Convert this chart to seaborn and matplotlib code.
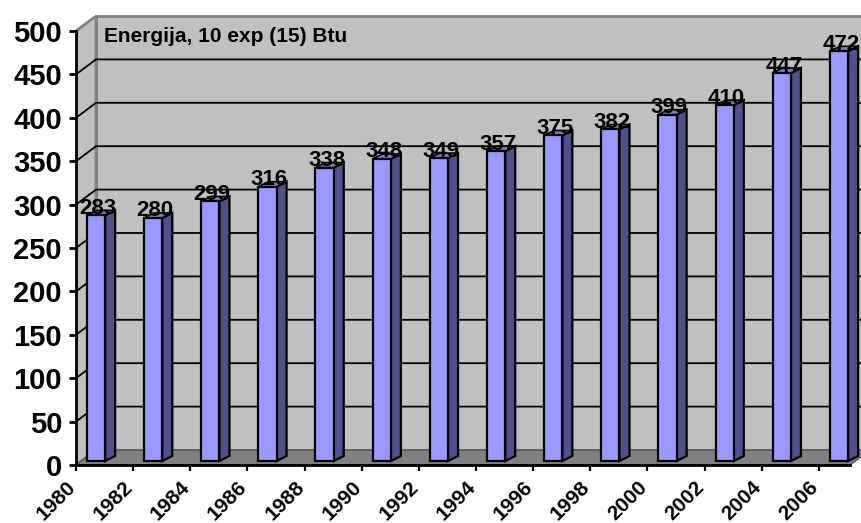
import matplotlib
matplotlib.use("Agg")
import matplotlib.pyplot as plt
from matplotlib.patches import Polygon
from matplotlib.transforms import ScaledTranslation
import seaborn as sns

# Data
years = [1980, 1982, 1984, 1986, 1988, 1990, 1992, 1994, 1996, 1998, 2000, 2002, 2004, 2006]
energy = [283, 280, 299, 316, 338, 348, 349, 357, 375, 382, 399, 410, 447, 472]
y_ticks = [0, 50, 100, 150, 200, 250, 300, 350, 400, 450, 500]
chart_title = "Energija, 10 exp (15) Btu"

sns.set_style("white")
plt.rcParams["font.family"] = ["Liberation Sans", "DejaVu Sans"]
plt.rcParams["font.weight"] = "bold"

W, H = 861, 523
fig = plt.figure(figsize=(W / 100, H / 100), dpi=100)
# axes run from the front-left corner of the box to the image edge
ax = fig.add_axes([76 / W, (H - 465) / H, (W - 76) / W, 449 / H])

# 3D look, in data units
px_x = 1 / 57.15
px_y = 500 / 434
wall_dx, wall_dy = 20 * px_x, 15 * px_y
bar_dx, bar_dy = 10 * px_x, 5 * px_y
bar_base = 4 * px_y
x0 = -20 * px_x
x_end = (850 - 96) * px_x
y_top = 500

sns.barplot(x=[str(y) for y in years], y=energy, color="#9999FF", saturation=1,
            width=0.32, bottom=bar_base, edgecolor="black", linewidth=1.6,
            zorder=4, ax=ax)

ax.set_xlim(x0, (W - 96) * px_x)
ax.set_ylim(0, 449 * px_y)

# walls and floor
ax.add_patch(Polygon([(x0 + wall_dx, wall_dy), (x_end + 2, wall_dy), (x_end + 2, y_top + wall_dy),
                      (x0 + wall_dx, y_top + wall_dy)],
                     facecolor="#C0C0C0", edgecolor="#808080", linewidth=2, zorder=1, clip_on=False))
ax.add_patch(Polygon([(x0, 0), (x0 + wall_dx, wall_dy), (x0 + wall_dx, y_top + wall_dy), (x0, y_top)],
                     facecolor="#C0C0C0", edgecolor="#808080", linewidth=2, zorder=1))
ax.add_patch(Polygon([(x0, 0), (x0 + wall_dx, wall_dy), (x_end + wall_dx, wall_dy), (x_end, 0)],
                     facecolor="#808080", edgecolor="#5A5A5A", linewidth=1.2, zorder=2))

# gridlines on back and side wall
for t in y_ticks[1:-1]:
    ax.plot([x0, x0 + wall_dx, x_end + 2], [t, t + wall_dy, t + wall_dy],
            color="black", linewidth=1.3, zorder=2)

# bar sides, tops and labels
for bar, val in zip(ax.patches[:len(energy)], energy):
    left, right = bar.get_x(), bar.get_x() + bar.get_width()
    top = val + bar_base
    ax.add_patch(Polygon([(right, bar_base), (right + bar_dx, bar_base + bar_dy),
                          (right + bar_dx, top + bar_dy), (right, top)],
                         facecolor="#50508C", edgecolor="black", linewidth=1.6, zorder=3))
    ax.add_patch(Polygon([(left, top), (left + bar_dx, top + bar_dy),
                          (right + bar_dx, top + bar_dy), (right, top)],
                         facecolor="#7A7AC4", edgecolor="black", linewidth=1.2, zorder=3))
    ax.text(bar.get_x() + bar.get_width() / 2 + 2 * px_x, top + 7 * px_y, str(val),
            ha="center", va="center", fontsize=16, color="black", zorder=6, clip_on=False)

ax.text(x0 + 28 * px_x, (465 - 37) * px_y, chart_title, ha="left", va="center",
        fontsize=15, color="black", zorder=6)

# axes lines and ticks
for side in ["top", "right"]:
    ax.spines[side].set_visible(False)
ax.spines["left"].set_bounds(0, y_top)
ax.spines["bottom"].set_bounds(x0, x_end)
for side in ["left", "bottom"]:
    ax.spines[side].set_linewidth(2)
    ax.spines[side].set_color("black")
    ax.spines[side].set_zorder(7)

ax.set_yticks(y_ticks)
ax.set_xticks([i + x0 for i in range(len(years))])
ax.set_xticklabels([str(y) for y in years], rotation=45, ha="right", rotation_mode="anchor")
ax.tick_params(axis="y", left=True, length=5, width=2, labelsize=21, pad=5, color="black", labelcolor="black")
ax.tick_params(axis="x", bottom=True, length=4, width=1.6, labelsize=15, pad=5, color="black", labelcolor="black")
# year labels sit a little left of their ticks
shift = ScaledTranslation(-10 / 100, 0, fig.dpi_scale_trans)
for label in ax.get_xticklabels():
    label.set_transform(label.get_transform() + shift)
ax.set_xlabel("")
ax.set_ylabel("")

fig.savefig("out.png", dpi=100)
